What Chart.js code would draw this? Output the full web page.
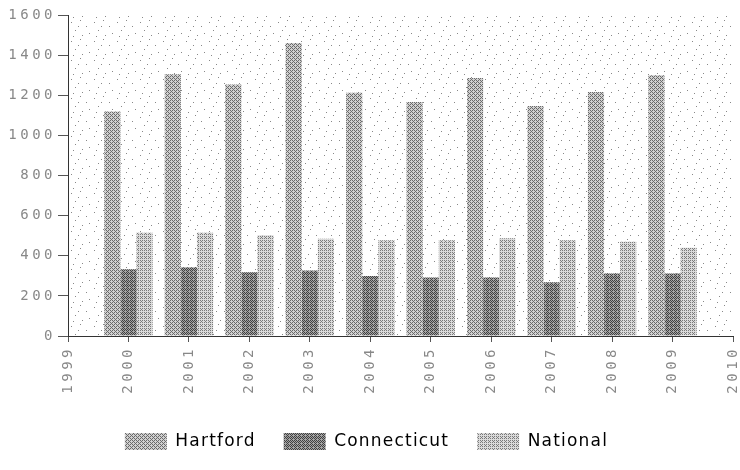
<!DOCTYPE html>
<html>
<head>
<meta charset="utf-8">
<script src="https://cdn.jsdelivr.net/npm/chart.js@4"></script>
<style>
html,body{margin:0;padding:0;background:#fff}
#wrap{width:740px;height:470px}
</style>
</head>
<body>
<div id="wrap"><canvas id="c" width="740" height="470"></canvas></div>
<script>
const years=['1999','2000','2001','2002','2003','2004','2005','2006','2007','2008','2009','2010'];
const hartford=[null,1119,1305,1254,1460,1213,1166,1286,1146,1216,1300,null];
const connecticut=[null,333,343,318,327,299,291,291,268,312,312,null];
const national=[null,515,515,502,485,477,477,487,477,470,440,null];
const yTicks=[0,200,400,600,800,1000,1200,1400,1600];

// ordered dither, to get the stippled look of the original
const bayer=[[0,8,2,10],[12,4,14,6],[3,11,1,9],[15,7,13,5]];
function stipple(bg,dot,dens){
  const c=document.createElement('canvas');c.width=4;c.height=4;
  const g=c.getContext('2d');
  g.fillStyle=bg;g.fillRect(0,0,4,4);
  g.fillStyle=dot;
  for(let i=0;i<4;i++)for(let j=0;j<4;j++){
    if(bayer[i][j]<dens*16)g.fillRect(j,i,1,1);
  }
  return g.createPattern(c,'repeat');
}
function sparseDots(){
  const c=document.createElement('canvas');c.width=23;c.height=19;
  const g=c.getContext('2d');
  g.fillStyle='#fff';g.fillRect(0,0,23,19);
  g.fillStyle='#888';
  [[2,3],[11,1],[17,7],[6,11],[20,14],[13,16],[4,17],[9,7]].forEach(p=>g.fillRect(p[0],p[1],1,1));
  return g.createPattern(c,'repeat');
}
const ctx=document.getElementById('c').getContext('2d');
const bgDots=sparseDots();

function spaced(fn,sp){
  return function(...a){const x=this.ctx;x.save();x.letterSpacing=sp;const r=fn.apply(this,a);x.restore();return r;};
}
const spacing={
  id:'spacing',
  afterInit(chart){
    const l=chart.legend;
    l.fit=spaced(l.fit,'1.2px');
    l.draw=spaced(l.draw,'1.2px');
  },
  beforeDraw(chart){
    Object.values(chart.scales).forEach(s=>{
      if(s._wrapped)return;
      s.drawLabels=spaced(s.drawLabels,'3.5px');
      s._wrapped=true;
    });
    const c=chart.ctx;
    c.save();
    c.fillStyle=bgDots;
    const a=chart.chartArea;
    c.fillRect(a.left,a.top,a.right-a.left,a.bottom-a.top);
    c.restore();
  }
};

new Chart(ctx,{
  type:'bar',
  data:{
    labels:years,
    datasets:[
      {label:'Hartford',data:hartford,backgroundColor:stipple('#d0d0d0','#6a6a6a',0.32)},
      {label:'Connecticut',data:connecticut,backgroundColor:stipple('#a4a4a4','#404040',0.38)},
      {label:'National',data:national,backgroundColor:stipple('#dadada','#7a7a7a',0.3)}
    ]
  },
  options:{
    responsive:false,animation:false,
    categoryPercentage:0.8,barPercentage:1,
    layout:{padding:{top:15,right:7,bottom:10,left:0}},
    plugins:{
      legend:{position:'bottom',labels:{boxWidth:42,boxHeight:17,padding:28,color:'#000',font:{family:'DejaVu Sans',size:17}}},
      tooltip:{enabled:false}
    },
    scales:{
      x:{
        offset:false,
        grid:{offset:false,drawOnChartArea:false,tickLength:6,color:'#555'},
        border:{color:'#333'},
        ticks:{autoSkip:false,minRotation:90,maxRotation:90,padding:4,color:'#888',font:{family:'DejaVu Sans Mono',size:14}},
        afterFit(s){s.height=69;s.paddingLeft=0;s.paddingRight=0;}
      },
      y:{
        min:0,max:1600,
        afterBuildTicks(s){s.ticks=yTicks.map(v=>({value:v}));},
        grid:{drawOnChartArea:false,tickLength:10,color:'#555'},
        border:{color:'#333'},
        ticks:{padding:2,color:'#888',font:{family:'DejaVu Sans Mono',size:14},callback:v=>String(v)},
        afterFit(s){s.width=68;}
      }
    }
  },
  plugins:[spacing]
});
</script>
</body>
</html>
